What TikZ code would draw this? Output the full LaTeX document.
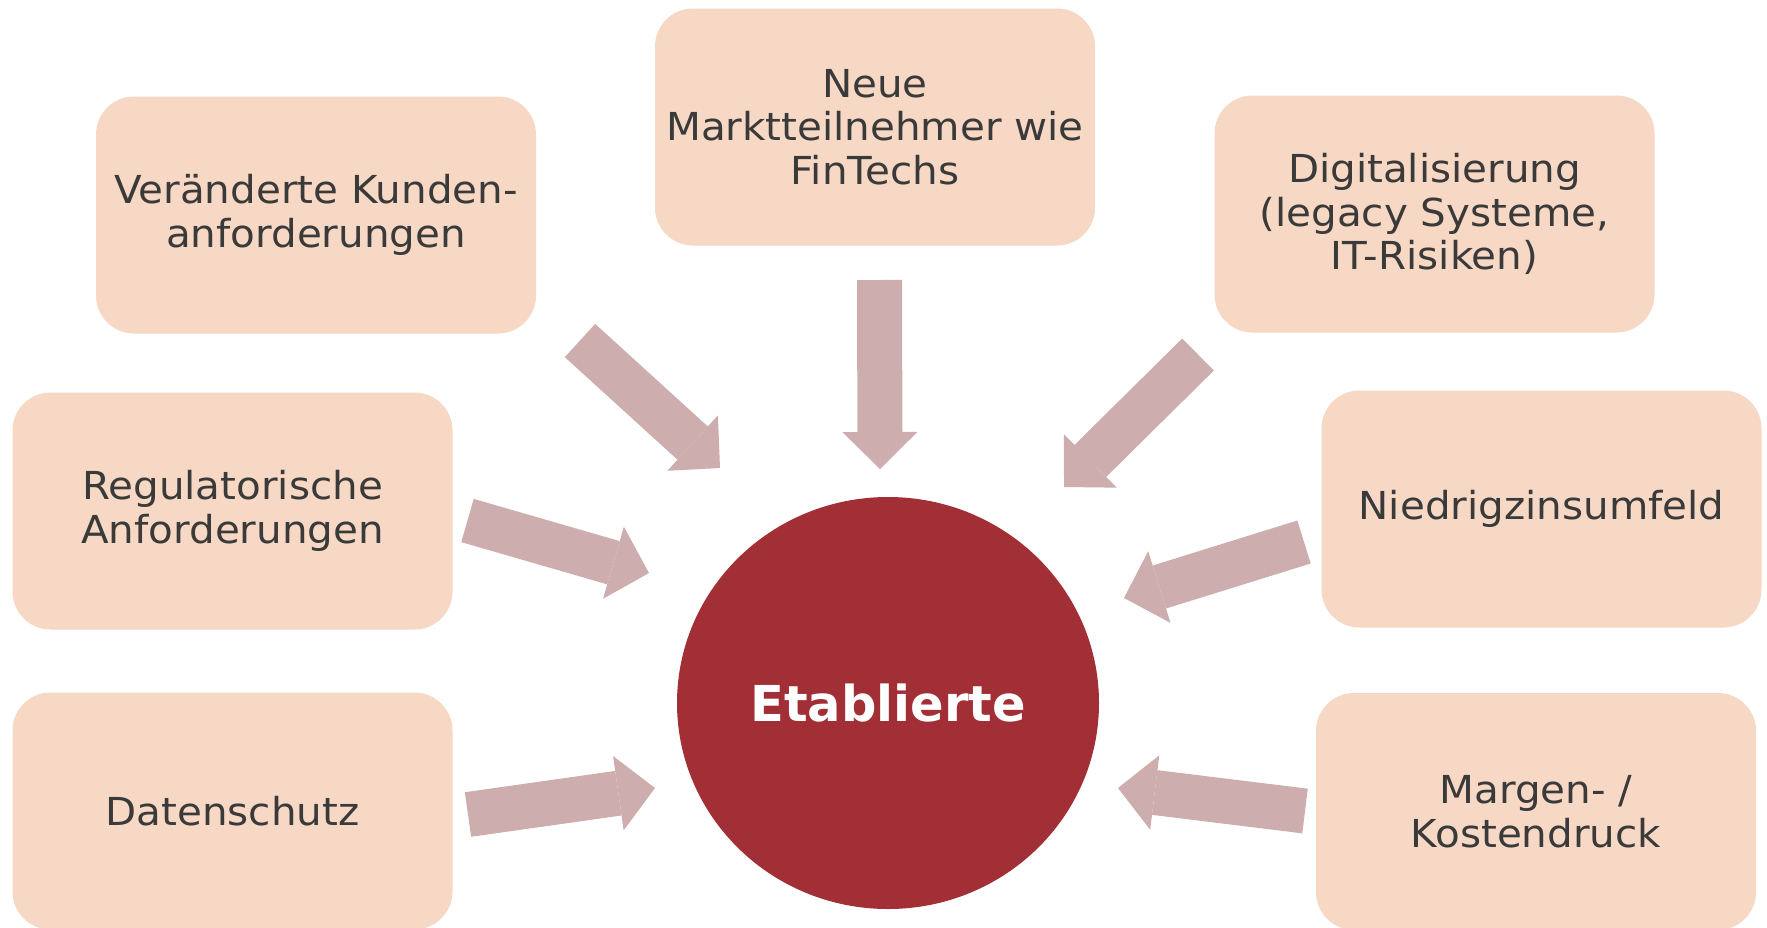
\documentclass[tikz,border=0pt]{standalone}
\usepackage{fontspec}
\setmainfont{DejaVu Sans}[FakeStretch=1.05]
\newfontfamily\corefont{DejaVu Sans}[FakeStretch=1.0]
\usetikzlibrary{arrows.meta,shapes.geometric}
\definecolor{boxfill}{HTML}{F6D8C4}
\definecolor{arrowfill}{HTML}{CDADAE}
\definecolor{circfill}{HTML}{A12F35}
\definecolor{txt}{HTML}{3A3A3A}
\begin{document}
\begin{tikzpicture}[x=1pt,y=-1pt,
  factor/.style={fill=boxfill, rounded corners=38pt, minimum width=440pt,
    minimum height=237pt, inner sep=0pt, align=center, text=txt,
    font=\fontsize{38.5pt}{43.5pt}\selectfont},
  push/.style={draw=arrowfill, line width=45pt, line cap=butt,
    -{Triangle[width=75pt,length=37pt,line width=0pt]}},
  core/.style={ellipse, fill=circfill, minimum width=422pt, minimum height=412pt,
    inner sep=0pt, text=white, font=\corefont\fontsize{49.5pt}{55pt}\selectfont\bfseries}]
\useasboundingbox (0,0) rectangle (1767,927);
\fill[white] (0,0) rectangle (1767,927);

\node[factor] (kunden)  at (316,215)    {Veränderte Kunden-\\anforderungen};
\node[factor] (neue)    at (875,127)    {Neue\\Marktteilnehmer wie\\FinTechs};
\node[factor] (digital) at (1434.5,214) {Digitalisierung\\(legacy Systeme,\\IT-Risiken)};
\node[factor] (regul)   at (232.5,511)  {Regulatorische\\Anforderungen};
\node[factor] (niedrig) at (1541.5,509) {Niedrigzinsumfeld};
\node[factor] (daten)   at (232.5,811){Datenschutz};
\node[factor] (margen)  at (1536,811.5){Margen- /\\Kostendruck};

\node[core] (etab) at (888,703) {Etablierte};

\coordinate (sA) at (580,340.5);  \coordinate (tA) at (720,468);
\coordinate (sB) at (879.5,280);  \coordinate (tB) at (880,469);
\coordinate (sC) at (1198,354.5); \coordinate (tC) at (1064,487);
\coordinate (sD) at (467.5,520.5);\coordinate (tD) at (649,573);
\coordinate (sE) at (1304,542);   \coordinate (tE) at (1124,598);
\coordinate (sF) at (468,814.5);  \coordinate (tF) at (655,788);
\coordinate (sG) at (1305,811);   \coordinate (tG) at (1118,788);

\draw[push] (sA) -- (tA);
\draw[push] (sB) -- (tB);
\draw[push] (sC) -- (tC);
\draw[push] (sD) -- (tD);
\draw[push] (sE) -- (tE);
\draw[push] (sF) -- (tF);
\draw[push] (sG) -- (tG);
\end{tikzpicture}
\end{document}
